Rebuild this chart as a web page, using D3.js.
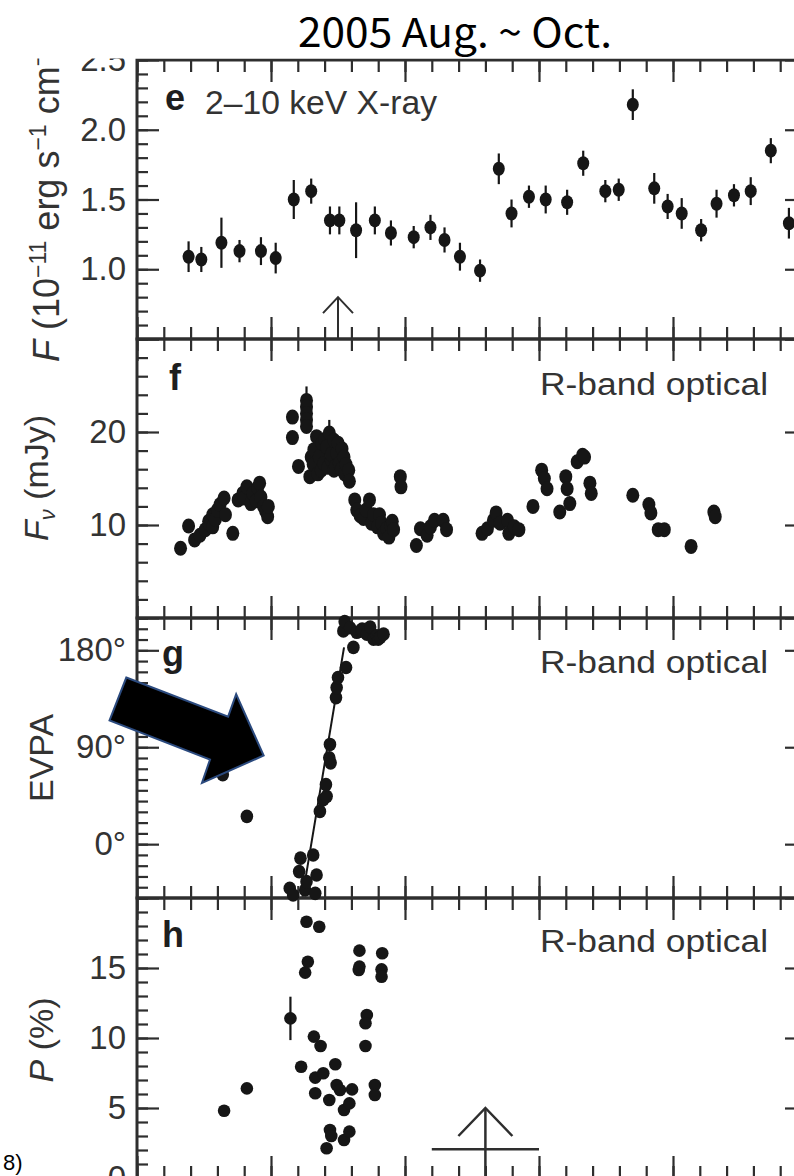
<!DOCTYPE html>
<html>
<head>
<meta charset="utf-8">
<title>2005 Aug. ~ Oct.</title>
<script src="https://d3js.org/d3.v7.min.js"></script>
<style>
  body { margin: 0; background: #fff; }
  svg text { font-family: "Liberation Sans", Arial, sans-serif; fill: #333; }
</style>
</head>
<body>
<script>
// time axis (JD - 2450000), no labels shown in the crop
var xDomain = [3580, 3680];
var xMajor = [3580, 3600, 3620, 3640, 3660, 3680];
var xMinor = d3.range(3580, 3681, 4);

// e: 2-10 keV X-ray flux [day, flux, error]
var xray = [
  [3587.7,1.09,0.11],[3589.6,1.07,0.09],[3592.6,1.19,0.18],[3595.3,1.13,0.08],[3598.5,1.13,0.10],[3600.7,1.08,0.11],
  [3603.4,1.50,0.14],[3606.0,1.56,0.09],[3608.8,1.35,0.10],[3610.2,1.35,0.10],[3612.7,1.28,0.20],[3615.5,1.35,0.10],
  [3617.9,1.26,0.09],[3621.3,1.23,0.08],[3623.8,1.30,0.09],[3625.9,1.21,0.09],[3628.2,1.09,0.10],[3631.2,0.99,0.08],
  [3634.0,1.72,0.11],[3635.9,1.40,0.10],[3638.5,1.52,0.08],[3641.0,1.50,0.10],[3644.2,1.48,0.09],[3646.6,1.76,0.09],
  [3649.9,1.56,0.08],[3651.9,1.57,0.08],[3654.0,2.18,0.11],[3657.2,1.58,0.11],[3659.2,1.45,0.09],[3661.3,1.40,0.11],
  [3664.2,1.28,0.08],[3666.5,1.47,0.10],[3669.1,1.53,0.08],[3671.6,1.56,0.10],[3674.6,1.85,0.09],[3677.3,1.33,0.11]
];
var xrayArrow = [3610, 0.80];

// f: R-band flux density [day, mJy]
var optical = [
  [3586.5,7.5],[3587.7,9.9],[3588.6,8.4],[3589.4,8.9],[3590.2,9.5],[3590.7,10.4],[3590.9,10.0],[3591.3,9.8],[3591.3,11.1],
  [3591.7,10.6],[3592.0,11.6],[3592.4,12.2],[3593.0,12.9],[3593.2,11.1],[3594.3,9.1],[3595.1,12.7],[3595.8,13.4],
  [3596.0,12.9],[3596.4,14.1],[3597.0,12.3],[3597.3,13.4],[3597.8,12.6],[3598.0,14.0],[3598.3,14.5],[3598.5,13.0],
  [3598.9,12.0],[3599.2,11.5],[3599.5,10.9],[3599.6,12.0],
  [3603.2,21.6],[3603.2,19.4],[3604.1,16.3],[3605.3,23.4],[3605.3,22.7],[3605.3,22.0],[3605.3,21.3],[3605.3,20.6],
  [3605.8,15.2],[3606.0,17.3],[3606.3,16.5],[3606.4,18.1],[3606.8,19.5],[3607.0,15.5],[3607.2,17.3],[3607.5,15.9],
  [3607.6,18.8],[3607.9,16.6],[3608.0,19.2],[3608.3,18.4],[3608.5,16.2],[3608.7,19.9],[3609.0,17.0],[3609.0,17.6],
  [3609.4,19.1],[3609.4,15.9],[3609.6,16.3],[3609.8,17.7],[3610.0,18.8],[3610.2,16.6],[3610.5,16.0],[3610.6,18.2],
  [3610.9,17.3],[3611.0,15.5],[3611.2,16.5],[3611.6,15.9],[3611.7,14.7],
  [3612.5,12.7],[3612.8,11.6],[3613.3,11.0],[3613.8,10.7],[3614.2,11.6],[3614.7,12.7],[3615.0,10.2],[3615.3,11.1],
  [3615.9,9.8],[3616.2,11.1],[3616.5,10.2],[3616.8,9.1],[3617.3,9.6],[3617.6,8.7],[3617.9,9.9],[3618.1,10.4],
  [3618.3,9.5],[3619.3,15.2],[3619.4,14.1],
  [3621.7,7.8],[3622.3,9.6],[3623.3,8.9],[3623.8,9.8],[3624.4,10.5],[3625.7,10.5],[3626.2,9.5],
  [3631.5,9.1],[3632.3,9.6],[3633.2,10.5],[3633.6,11.3],[3634.2,10.2],[3635.3,10.5],[3635.5,9.1],[3636.3,9.8],[3637.0,9.5],
  [3639.1,12.0],[3640.4,15.9],[3640.8,15.0],[3641.2,13.9],[3643.1,11.4],[3644.0,15.2],[3644.2,13.9],[3644.6,12.3],
  [3645.7,16.8],[3646.5,17.5],[3646.8,17.3],[3647.6,14.5],[3647.8,13.4],
  [3654.0,13.2],[3656.4,12.2],[3656.7,11.3],[3657.8,9.5],[3658.7,9.5],[3662.7,7.7],[3666.1,11.4],[3666.3,10.9]
];
var opticalErr = [[3605.3,23.4,1.5],[3608.7,19.9,1.4]];

// g: EVPA [day, degrees]
var evpa = [
  [3592.8,64.6],[3596.4,25.8],
  [3602.8,-41.0],[3603.3,-47.2],[3604.2,-25.5],[3604.4,-13.0],[3605.1,-42.6],[3605.3,-34.8],[3606.3,-10.1],
  [3606.6,-45.7],[3606.8,-28.6],[3607.3,30.4],[3607.8,41.3],[3608.3,44.4],[3608.2,55.3],[3608.9,75.5],[3608.7,80.2],
  [3608.8,92.6],[3609.7,136.1],[3609.8,145.4],[3610.0,154.7],[3611.2,164.0],[3612.3,182.7],
  [3610.8,198.0],[3611.0,206.6],[3611.8,201.0],[3612.8,196.7],[3613.5,198.0],[3613.6,199.7],[3614.3,195.0],
  [3614.8,201.6],[3615.3,190.4],[3615.8,193.5],[3616.0,190.4],[3616.3,192.0],[3616.8,195.0]
];
var evpaFit = [[3604.7,-48.8],[3610.9,182.7]];

// h: polarization [day, percent]
var pol = [
  [3593.0,4.8],[3596.4,6.4],[3602.9,11.4],[3604.5,7.95],[3605.3,18.3],[3607.2,17.95],[3605.5,15.45],[3605.1,14.67],
  [3606.4,10.1],[3607.4,9.43],[3606.6,7.17],[3606.6,6.05],[3607.8,7.48],[3608.7,5.57],[3609.6,8.12],[3609.8,6.64],
  [3610.3,6.29],[3610.9,4.86],[3611.7,5.33],[3612.1,6.33],[3608.8,3.43],[3609.0,3.0],[3608.3,2.12],[3610.9,2.71],
  [3611.7,3.31],[3613.2,16.24],[3613.1,14.86],[3613.2,15.1],[3614.3,11.64],[3614.1,11.05],[3614.1,9.43],
  [3615.5,6.64],[3615.5,5.93],[3616.6,16.05],[3616.5,14.9],[3616.5,14.38]
];
var polErr = [[3602.9,11.4,1.55]];
var polArrow = [3632, 5.0, 2.05, 3624, 3640];

// the big pointer drawn over panel g, in panel g data units
var bigArrow = [[3578.4,154.7],[3593.6,118.4],[3594.8,139.2],[3598.9,82.3],[3589.7,56.9],[3590.9,78.6],[3575.9,114.9]];

var W = 794, H = 1176;
var ink = "#2e2e2e", dot = "#161616";

var svg = d3.select("body").append("svg")
  .attr("width", W)
  .attr("height", H);

var x = d3.scaleLinear().domain(xDomain).range([137, 807]);

function steps(lo, hi, st) {
  var out = [];
  for (var i = Math.round(lo / st); i <= Math.round(hi / st); i++) out.push(+(i * st).toFixed(4));
  return out;
}

var panels = [
  {name: "e", domain: [0.5, 2.5], top: 60, bottom: 339, major: [0.5, 1, 1.5, 2, 2.5], minor: steps(0.5, 2.5, 0.1),
   labels: [1, 1.5, 2, 2.5], fmt: d3.format(".1f")},
  {name: "f", domain: [0, 30], top: 339, bottom: 618, major: [0, 10, 20, 30], minor: steps(0, 30, 2),
   labels: [10, 20], fmt: d3.format("d")},
  {name: "g", domain: [-50, 210], top: 618, bottom: 898, major: [0, 90, 180], minor: steps(-50, 210, 10),
   labels: [0, 90, 180], fmt: function(d) { return d + "°"; }},
  {name: "h", domain: [0, 20], top: 898, bottom: 1178, major: [0, 5, 10, 15, 20], minor: steps(0, 20, 1),
   labels: [0, 5, 10, 15], fmt: d3.format("d")}
];

function styleAxis(sel) {
  sel.selectAll(".domain").remove();
  sel.selectAll(".tick line").attr("stroke", ink).attr("stroke-width", 2.2);
  sel.selectAll(".tick text").attr("font-size", 33);
}

panels.forEach(function(p) {
  var y = d3.scaleLinear().domain(p.domain).range([p.bottom, p.top]);
  p.y = y;
  var g = svg.append("g");

  g.append("g").attr("transform", "translate(" + x.range()[0] + ",0)")
    .call(d3.axisLeft(y).tickValues(p.minor).tickSize(-11).tickFormat(""))
    .call(styleAxis);
  g.append("g").attr("transform", "translate(" + x.range()[0] + ",0)")
    .call(d3.axisLeft(y).tickValues(p.major).tickSize(-22).tickPadding(11)
      .tickFormat(function(d) { return p.labels.indexOf(d) >= 0 ? p.fmt(d) : ""; }))
    .call(styleAxis);
  g.append("g").attr("transform", "translate(" + x.range()[1] + ",0)")
    .call(d3.axisRight(y).tickValues(p.minor).tickSize(-11).tickFormat(""))
    .call(styleAxis);
  g.append("g").attr("transform", "translate(" + x.range()[1] + ",0)")
    .call(d3.axisRight(y).tickValues(p.major).tickSize(-22).tickFormat(""))
    .call(styleAxis);

  [[p.top, d3.axisTop], [p.bottom, d3.axisBottom]].forEach(function(a) {
    g.append("g").attr("transform", "translate(0," + a[0] + ")")
      .call(a[1](x).tickValues(xMinor).tickSize(-12).tickFormat(""))
      .call(styleAxis);
    g.append("g").attr("transform", "translate(0," + a[0] + ")")
      .call(a[1](x).tickValues(xMajor).tickSize(-22).tickFormat(""))
      .call(styleAxis);
  });

  g.append("rect")
    .attr("x", x.range()[0]).attr("y", p.top)
    .attr("width", x.range()[1] - x.range()[0]).attr("height", p.bottom - p.top)
    .attr("fill", "none").attr("stroke", ink).attr("stroke-width", 3);
});

var pe = panels[0], pf = panels[1], pg = panels[2], ph = panels[3];

function errorBars(data, y) {
  svg.append("g").selectAll("line").data(data).enter().append("line")
    .attr("x1", function(d) { return x(d[0]); })
    .attr("x2", function(d) { return x(d[0]); })
    .attr("y1", function(d) { return y(d[1] - d[2]); })
    .attr("y2", function(d) { return y(d[1] + d[2]); })
    .attr("stroke", dot).attr("stroke-width", 2.2);
}
function dots(data, y, rx, ry) {
  svg.append("g").selectAll("ellipse").data(data).enter().append("ellipse")
    .attr("cx", function(d) { return x(d[0]); })
    .attr("cy", function(d) { return y(d[1]); })
    .attr("rx", rx)
    .attr("ry", ry)
    .attr("fill", dot);
}

// e
errorBars(xray, pe.y);
dots(xray, pe.y, 6, 7);
var ax = x(xrayArrow[0]), ay = pe.y(xrayArrow[1]);
svg.append("line").attr("x1", ax).attr("x2", ax).attr("y1", pe.y(0.5)).attr("y2", ay)
  .attr("stroke", ink).attr("stroke-width", 2);
svg.append("polyline")
  .attr("points", [[ax - 15, ay + 16], [ax, ay], [ax + 15, ay + 16]].join(" "))
  .attr("fill", "none").attr("stroke", ink).attr("stroke-width", 2);

// f
errorBars(opticalErr, pf.y);
dots(optical, pf.y, 6.5, 7.5);

// g
svg.append("path")
  .attr("d", d3.line().x(function(d) { return x(d[0]); }).y(function(d) { return pg.y(d[1]); })(evpaFit))
  .attr("stroke", dot).attr("stroke-width", 2).attr("fill", "none");
dots(evpa, pg.y, 6.3, 6.8);

// h
errorBars(polErr, ph.y);
dots(pol, ph.y, 6.3, 6.3);
var px = x(polArrow[0]), py = ph.y(polArrow[1]);
svg.append("line").attr("x1", px).attr("x2", px).attr("y1", ph.y(0)).attr("y2", py)
  .attr("stroke", ink).attr("stroke-width", 2.5);
svg.append("polyline")
  .attr("points", [[px - 27, py + 28], [px, py], [px + 27, py + 28]].join(" "))
  .attr("fill", "none").attr("stroke", ink).attr("stroke-width", 2.5);
svg.append("line")
  .attr("x1", x(polArrow[3])).attr("x2", x(polArrow[4]))
  .attr("y1", ph.y(polArrow[2])).attr("y2", ph.y(polArrow[2]))
  .attr("stroke", ink).attr("stroke-width", 2.5);

// panel captions
var letters = [["e", 165, 110], ["f", 169, 390], ["g", 162, 666], ["h", 162, 947]];
svg.selectAll("text.letter").data(letters).enter().append("text")
  .attr("class", "letter")
  .attr("x", function(d) { return d[1]; })
  .attr("y", function(d) { return d[2]; })
  .attr("font-size", 36).attr("font-weight", "bold")
  .style("fill", "#1e1e1e")
  .text(function(d) { return d[0]; });

svg.append("text").attr("x", 205).attr("y", 114).attr("font-size", 33)
  .attr("textLength", 232).attr("lengthAdjust", "spacingAndGlyphs")
  .text("2–10 keV X-ray");

[395, 673, 952].forEach(function(yy) {
  svg.append("text").attr("x", 540).attr("y", yy).attr("font-size", 31)
    .attr("textLength", 228).attr("lengthAdjust", "spacingAndGlyphs")
    .text("R-band optical");
});

// y axis titles
var te = svg.append("text").attr("transform", "translate(59,362) rotate(-90)").attr("font-size", 36);
te.append("tspan").style("font-style", "italic").text("F");
te.append("tspan").text(" (10");
te.append("tspan").attr("font-size", 23).attr("dy", -13).text("−11");
te.append("tspan").attr("dy", 13).text(" erg s");
te.append("tspan").attr("font-size", 23).attr("dy", -13).text("−1");
te.append("tspan").attr("dy", 13).text(" cm");
te.append("tspan").attr("font-size", 23).attr("dy", -13).text("−2");
te.append("tspan").attr("dy", 13).text(")");

var tf = svg.append("text").attr("transform", "translate(48,478) rotate(-90)")
  .attr("font-size", 34).attr("text-anchor", "middle");
tf.append("tspan").style("font-style", "italic").text("F");
tf.append("tspan").style("font-style", "italic").attr("font-size", 22).attr("dy", 7).text("ν");
tf.append("tspan").attr("dy", -7).text(" (mJy)");

svg.append("text").attr("transform", "translate(53,758) rotate(-90)")
  .attr("font-size", 34).attr("text-anchor", "middle").text("EVPA");

var th = svg.append("text").attr("transform", "translate(53,1040) rotate(-90)")
  .attr("font-size", 34).attr("text-anchor", "middle");
th.append("tspan").style("font-style", "italic").text("P");
th.append("tspan").text(" (%)");

// pointer over panel g
svg.append("polygon")
  .attr("points", bigArrow.map(function(d) { return [x(d[0]), pg.y(d[1])]; }).join(" "))
  .attr("fill", "#000").attr("stroke", "#2b4a7e").attr("stroke-width", 2)
  .attr("stroke-linejoin", "miter");

// header strip and title
svg.append("rect").attr("x", 0).attr("y", 0).attr("width", W).attr("height", 58.5).attr("fill", "#fff");
svg.append("text").attr("x", 455).attr("y", 47)
  .attr("text-anchor", "middle")
  .attr("textLength", 314).attr("lengthAdjust", "spacingAndGlyphs")
  .style("font-family", "'Noto Sans CJK JP', 'Noto Sans', sans-serif")
  .style("font-size", "40px").style("fill", "#000")
  .text("2005 Aug. ~ Oct.");

svg.append("text").attr("x", 3).attr("y", 1170)
  .style("font-size", "22px").style("fill", "#000")
  .text("8)");
</script>
</body>
</html>
